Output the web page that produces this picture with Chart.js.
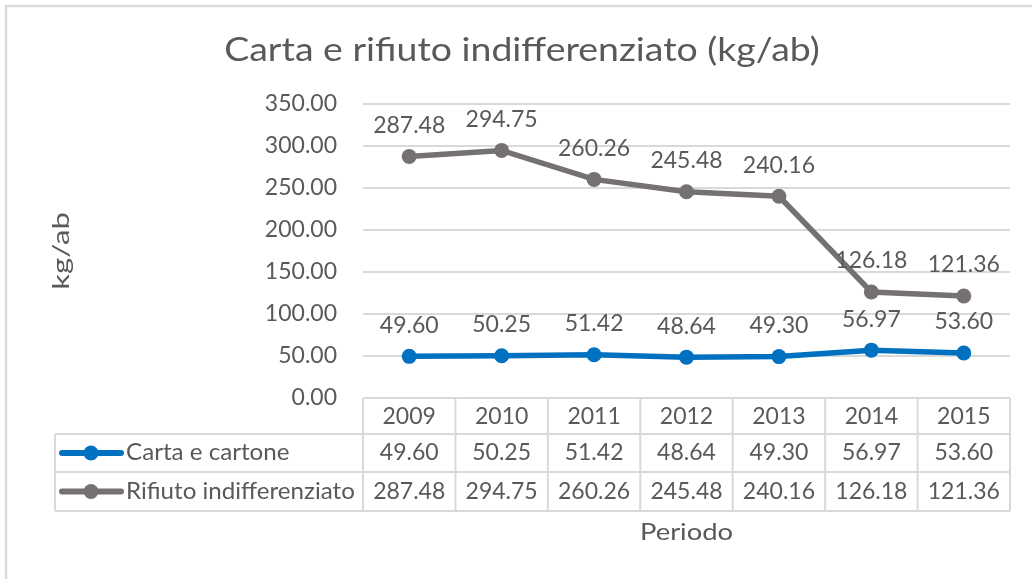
<!DOCTYPE html>
<html>
<head>
<meta charset="utf-8">
<script src="https://cdn.jsdelivr.net/npm/chart.js@4/dist/chart.umd.min.js"></script>
<style>
  html, body { margin: 0; padding: 0; background: #ffffff; }
  #c { display: block; }
</style>
</head>
<body>
<canvas id="c" width="1032" height="579"></canvas>
<script>
// Data
const chartTitle = 'Carta e rifiuto indifferenziato (kg/ab)';
const years = ['2009', '2010', '2011', '2012', '2013', '2014', '2015'];
const cartaCartone = [49.60, 50.25, 51.42, 48.64, 49.30, 56.97, 53.60];
const rifiutoIndifferenziato = [287.48, 294.75, 260.26, 245.48, 240.16, 126.18, 121.36];
const seriesNames = ['Carta e cartone', 'Rifiuto indifferenziato'];
const yAxisTitle = 'kg/ab';
const xAxisTitle = 'Periodo';
const yMin = 0, yMax = 350, yStep = 50;

// Styling
const FONT = 'Lato, "Open Sans", sans-serif';
const TEXT = '#595959';
const GRID = '#d9d9d9';
const BLUE = '#0070c0';
const GRAY = '#767171';

const fmt = v => Number(v).toFixed(2);

// Draws text widened along its baseline by factor sx, optionally rotated
function wideText(ctx, text, x, y, sx, align, rot) {
  ctx.save();
  ctx.translate(x, y);
  if (rot) ctx.rotate(rot);
  ctx.scale(sx, 1);
  ctx.textAlign = align;
  ctx.textBaseline = 'middle';
  ctx.fillText(text, 0, 0);
  ctx.restore();
}

// Frame, titles, value labels and the data table under the plot
const decorations = {
  id: 'decorations',
  beforeDraw(chart) {
    const ctx = chart.ctx;
    ctx.save();
    ctx.fillStyle = '#ffffff';
    ctx.fillRect(0, 0, chart.width, chart.height);
    ctx.strokeStyle = '#d9d9d9';
    ctx.lineWidth = 2.5;
    ctx.beginPath();
    ctx.moveTo(6, chart.height);
    ctx.lineTo(6, 6);
    ctx.lineTo(chart.width, 6);
    ctx.stroke();

    ctx.fillStyle = TEXT;
    ctx.font = `32px ${FONT}`;
    wideText(ctx, chartTitle, 522, 51, 1.17, 'center');

    ctx.font = `23px ${FONT}`;
    wideText(ctx, yAxisTitle, 62, 251, 1.35, 'center', -Math.PI / 2);
    ctx.restore();
  },
  afterDatasetsDraw(chart) {
    const ctx = chart.ctx;
    ctx.save();
    ctx.fillStyle = TEXT;
    ctx.font = `23px ${FONT}`;
    ctx.textAlign = 'center';
    ctx.textBaseline = 'middle';
    chart.data.datasets.forEach((ds, di) => {
      const meta = chart.getDatasetMeta(di);
      meta.data.forEach((pt, i) => {
        ctx.fillText(fmt(ds.data[i]), pt.x, pt.y - 31);
      });
    });
    ctx.restore();
  },
  afterDraw(chart) {
    const ctx = chart.ctx;
    const area = chart.chartArea;
    const xs = chart.scales.x;
    const n = years.length;
    const colW = (area.right - area.left) / n;
    const tableLeft = 55;
    const rowTops = [area.bottom, area.bottom + 36, area.bottom + 74, area.bottom + 113];

    ctx.save();
    ctx.strokeStyle = GRID;
    ctx.lineWidth = 2;
    ctx.beginPath();
    // horizontal rules
    ctx.moveTo(area.left, rowTops[0]); ctx.lineTo(area.right, rowTops[0]);
    for (let r = 1; r < rowTops.length; r++) {
      ctx.moveTo(tableLeft, rowTops[r]); ctx.lineTo(area.right, rowTops[r]);
    }
    // vertical rules
    for (let i = 0; i <= n; i++) {
      const x = area.left + i * colW;
      ctx.moveTo(x, rowTops[0]); ctx.lineTo(x, rowTops[3]);
    }
    ctx.moveTo(tableLeft, rowTops[1]); ctx.lineTo(tableLeft, rowTops[3]);
    ctx.stroke();

    ctx.fillStyle = TEXT;
    ctx.font = `23px ${FONT}`;
    ctx.textAlign = 'center';
    ctx.textBaseline = 'middle';
    years.forEach((y, i) => {
      const cx = xs.getPixelForValue(i);
      ctx.fillText(y, cx, (rowTops[0] + rowTops[1]) / 2 + 1);
    });
    chart.data.datasets.forEach((ds, di) => {
      const cy = (rowTops[di + 1] + rowTops[di + 2]) / 2;
      ds.data.forEach((v, i) => {
        ctx.fillText(fmt(v), xs.getPixelForValue(i), cy);
      });
      // legend key
      ctx.strokeStyle = ds.borderColor;
      ctx.lineWidth = 6;
      ctx.lineCap = 'round';
      ctx.beginPath();
      ctx.moveTo(62, cy); ctx.lineTo(121, cy);
      ctx.stroke();
      ctx.fillStyle = ds.borderColor;
      ctx.beginPath();
      ctx.arc(91, cy, 7.5, 0, Math.PI * 2);
      ctx.fill();
      ctx.fillStyle = TEXT;
      wideText(ctx, ds.label, 126, cy, 1.05, 'left');
    });

    wideText(ctx, xAxisTitle, (area.left + area.right) / 2, 533, 1.19, 'center');
    ctx.restore();
  }
};

new Chart(document.getElementById('c'), {
  type: 'line',
  data: {
    labels: years,
    datasets: [
      {
        label: seriesNames[0],
        data: cartaCartone,
        borderColor: BLUE,
        backgroundColor: BLUE,
        borderWidth: 5.5,
        pointRadius: 7.5,
        pointHoverRadius: 7.5,
        pointBorderWidth: 0,
        tension: 0
      },
      {
        label: seriesNames[1],
        data: rifiutoIndifferenziato,
        borderColor: GRAY,
        backgroundColor: GRAY,
        borderWidth: 5.5,
        pointRadius: 7.5,
        pointHoverRadius: 7.5,
        pointBorderWidth: 0,
        tension: 0
      }
    ]
  },
  options: {
    responsive: false,
    animation: false,
    devicePixelRatio: 1,
    layout: { padding: { top: 104, left: 0, right: 22, bottom: 181 } },
    plugins: {
      legend: { display: false },
      title: { display: false },
      tooltip: { enabled: false }
    },
    scales: {
      x: {
        type: 'category',
        display: false,
        offset: true
      },
      y: {
        min: yMin,
        max: yMax,
        afterFit(scale) { scale.width = 363; },
        ticks: {
          stepSize: yStep,
          padding: 26,
          color: TEXT,
          font: { family: FONT, size: 23 },
          callback: v => fmt(v)
        },
        grid: { color: GRID, lineWidth: 2, drawTicks: false },
        border: { display: false }
      }
    }
  },
  plugins: [decorations]
});
</script>
</body>
</html>
